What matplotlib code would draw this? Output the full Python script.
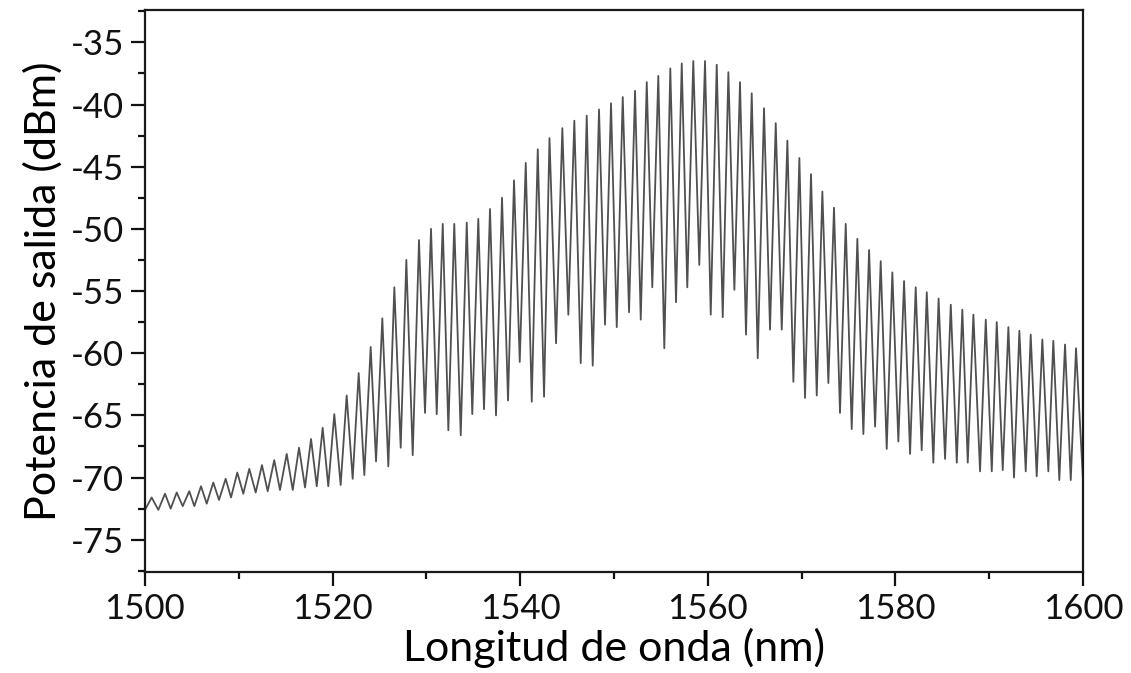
import numpy as np
import matplotlib
matplotlib.use("Agg")
import matplotlib.pyplot as plt
from matplotlib.ticker import MultipleLocator

# Fringe maxima (wavelength in nm, power in dBm)
peak_nm = [1500.71, 1502.13, 1503.38, 1504.72, 1505.97, 1507.28, 1508.60, 1509.84,
           1511.12, 1512.47, 1513.78, 1515.11, 1516.42, 1517.70, 1518.94, 1520.18,
           1521.50, 1522.78, 1524.06, 1525.30, 1526.58, 1527.86, 1529.21, 1530.49,
           1531.74, 1532.97, 1534.30, 1535.53, 1536.78, 1538.06, 1539.34, 1540.59,
           1541.87, 1543.12, 1544.49, 1545.77, 1547.09, 1548.40, 1549.68, 1550.93,
           1552.24, 1553.49, 1554.72, 1556.00, 1557.22, 1558.45, 1559.70, 1560.95,
           1562.19, 1563.43, 1564.68, 1565.99, 1567.24, 1568.48, 1569.76, 1571.00,
           1572.21, 1573.45, 1574.70, 1575.94, 1577.19, 1578.43, 1579.67, 1580.92,
           1582.16, 1583.34, 1584.60, 1585.90, 1587.13, 1588.31, 1589.63, 1590.80,
           1592.04, 1593.21, 1594.42, 1595.66, 1596.83, 1598.08, 1599.25]
peak_dbm = [-71.6, -71.3, -71.2, -71.1, -70.7, -70.4, -70.1, -69.6,
            -69.3, -69.0, -68.6, -68.1, -67.6, -66.9, -66.0, -64.9,
            -63.4, -61.6, -59.5, -57.2, -54.7, -52.5, -50.9, -50.0,
            -49.6, -49.6, -49.5, -49.2, -48.4, -47.5, -46.1, -44.7,
            -43.6, -42.7, -41.9, -41.3, -40.9, -40.4, -39.9, -39.4,
            -38.9, -38.2, -37.7, -37.1, -36.7, -36.5, -36.5, -36.8,
            -37.4, -38.2, -39.1, -40.3, -41.5, -42.9, -44.3, -45.6,
            -47.0, -48.3, -49.6, -50.8, -51.7, -52.6, -53.5, -54.2,
            -54.7, -55.1, -55.6, -56.1, -56.5, -56.9, -57.3, -57.5,
            -57.9, -58.2, -58.5, -58.9, -59.0, -59.3, -59.6]

# Fringe minima
dip_nm = [1500.00, 1501.42, 1502.74, 1504.02, 1505.26, 1506.58, 1507.89, 1509.17,
          1510.48, 1511.80, 1513.08, 1514.39, 1515.75, 1517.06, 1518.31, 1519.54,
          1520.86, 1522.14, 1523.38, 1524.63, 1525.94, 1527.26, 1528.54, 1529.85,
          1531.10, 1532.34, 1533.66, 1534.89, 1536.14, 1537.42, 1538.70, 1539.95,
          1541.23, 1542.54, 1543.82, 1545.13, 1546.45, 1547.73, 1549.04, 1550.29,
          1551.60, 1552.85, 1554.08, 1555.36, 1556.61, 1557.81, 1559.09, 1560.31,
          1561.59, 1562.83, 1564.07, 1565.32, 1566.63, 1567.88, 1569.12, 1570.36,
          1571.61, 1572.85, 1574.09, 1575.34, 1576.58, 1577.83, 1579.07, 1580.31,
          1581.56, 1582.80, 1584.04, 1585.29, 1586.54, 1587.71, 1589.02, 1590.27,
          1591.44, 1592.64, 1593.89, 1595.06, 1596.30, 1597.47, 1598.69, 1600.00]
dip_dbm = [-72.6, -72.6, -72.5, -72.3, -72.3, -72.1, -71.8, -71.6,
           -71.3, -71.2, -71.1, -71.0, -71.0, -70.8, -70.7, -70.7,
           -70.6, -70.1, -69.8, -68.7, -69.1, -67.6, -68.2, -64.8,
           -64.9, -66.2, -66.6, -64.9, -64.5, -65.0, -63.8, -60.7,
           -63.9, -63.5, -59.2, -56.9, -60.8, -61.0, -57.7, -57.9,
           -56.7, -57.3, -54.7, -59.6, -55.9, -54.7, -52.9, -56.9,
           -57.1, -54.9, -58.5, -60.4, -58.1, -58.1, -62.3, -63.6,
           -63.4, -62.4, -64.8, -66.1, -66.5, -65.9, -67.7, -67.1,
           -68.1, -67.8, -68.8, -68.5, -68.8, -68.8, -69.5, -69.5,
           -69.4, -70.0, -69.5, -69.9, -69.5, -70.2, -70.2, -70.3]

# interleave minima and maxima into one trace
wl = np.empty(len(dip_nm) + len(peak_nm))
pw = np.empty_like(wl)
wl[0::2] = dip_nm
wl[1::2] = peak_nm
pw[0::2] = dip_dbm
pw[1::2] = peak_dbm

plt.rcParams["font.family"] = ["Lato", "DejaVu Sans"]

fig = plt.figure(figsize=(11.31, 6.73), dpi=100)
ax = fig.add_axes([0.1282, 0.150, 0.8294, 0.8351])

ax.plot(wl, pw, color="#505050", linewidth=1.3, solid_joinstyle="round")

ax.set_xlim(1500, 1600)
ax.set_ylim(-77.6, -32.4)
ax.xaxis.set_major_locator(MultipleLocator(20))
ax.xaxis.set_minor_locator(MultipleLocator(10))
ax.yaxis.set_major_locator(MultipleLocator(5))
ax.yaxis.set_minor_locator(MultipleLocator(2.5))
ax.yaxis.set_major_formatter(plt.FuncFormatter(lambda v, p: "%d" % v))

for s in ax.spines.values():
    s.set_linewidth(1.6)
    s.set_color("#1a1a1a")
ax.tick_params(which="major", direction="out", length=10, width=1.6,
               labelsize=25, pad=5, colors="#111111")
ax.tick_params(which="minor", direction="out", length=5, width=1.6, colors="#111111")
ax.tick_params(top=False, right=False, which="both")

ax.set_xlabel("Longitud de onda (nm)", fontsize=31, labelpad=2)
ax.set_ylabel("Potencia de salida (dBm)", fontsize=31, labelpad=6)

fig.savefig("out.png", dpi=100)
